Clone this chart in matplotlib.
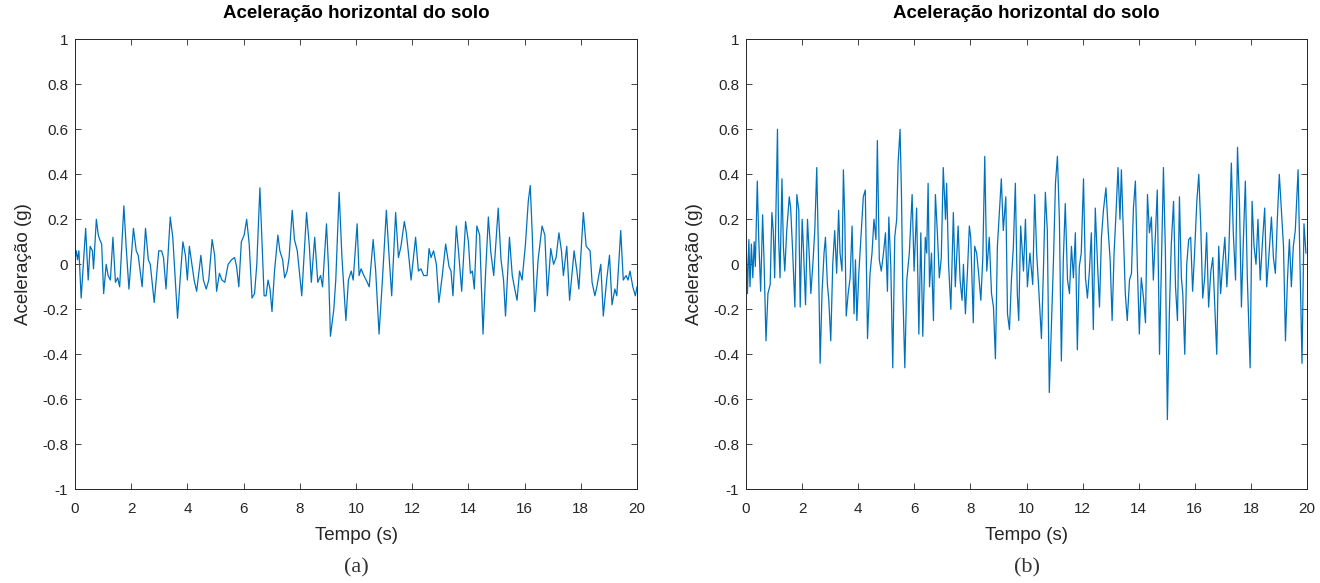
import numpy as np
import matplotlib
matplotlib.use("Agg")
import matplotlib.pyplot as plt
from matplotlib.ticker import FuncFormatter

# (a) sinal mais suave
t_a = [0.00, 0.05, 0.09, 0.14, 0.22, 0.38, 0.47, 0.54, 0.62, 0.66, 0.76, 0.83, 0.88, 0.95, 1.02,
       1.11, 1.18, 1.26, 1.35, 1.44, 1.52, 1.59, 1.74, 1.82, 1.92, 2.08, 2.18, 2.25, 2.39, 2.51,
       2.61, 2.68, 2.82, 2.89, 2.98, 3.08, 3.15, 3.24, 3.39, 3.48, 3.55, 3.65, 3.74, 3.84, 3.93,
       4.00, 4.07, 4.17, 4.24, 4.33, 4.48, 4.57, 4.67, 4.76, 4.88, 4.97, 5.04, 5.14, 5.23, 5.33,
       5.45, 5.57, 5.68, 5.75, 5.83, 5.92, 6.02, 6.11, 6.20, 6.30, 6.39, 6.47, 6.58,
       6.73, 6.80, 6.87, 6.94, 7.01, 7.10, 7.22, 7.29, 7.39, 7.46, 7.55, 7.62, 7.73, 7.81, 7.91,
       8.07, 8.24, 8.34, 8.41, 8.53, 8.64, 8.74, 8.81, 8.95, 9.02, 9.09, 9.21, 9.28, 9.40, 9.50,
       9.64, 9.73, 9.83, 9.90, 10.04, 10.11, 10.18, 10.28, 10.40, 10.47, 10.61, 10.70, 10.82, 10.94,
       11.08, 11.18, 11.27, 11.41, 11.51, 11.60, 11.72, 11.79, 11.89, 11.96, 12.12, 12.22, 12.31,
       12.41, 12.53, 12.60, 12.67, 12.76, 12.86, 12.95, 13.07, 13.19, 13.31,
       13.38, 13.45, 13.57, 13.66, 13.76, 13.90, 14.00, 14.07, 14.14, 14.21, 14.30, 14.40, 14.52,
       14.61, 14.71, 14.80, 14.90, 15.06, 15.16, 15.25, 15.32, 15.46, 15.56, 15.65, 15.73, 15.82,
       15.91, 16.03, 16.13, 16.20, 16.27, 16.36, 16.48, 16.62, 16.72, 16.81, 16.93, 17.03, 17.12,
       17.22, 17.31, 17.38, 17.50, 17.60, 17.76, 17.86, 17.93, 18.09, 18.19, 18.33, 18.40, 18.50,
       18.57, 18.71, 18.80, 18.92, 19.02, 19.11, 19.21, 19.28, 19.42, 19.51, 19.61, 19.68, 19.75,
       19.85, 19.94, 20.00]
acc_a = [0.02, 0.06, 0.02, 0.06, -0.15, 0.16, -0.07, 0.08, 0.06, -0.02, 0.20, 0.13, 0.11, 0.09, -0.13,
         0.00, -0.05, -0.07, 0.12, -0.08, -0.06, -0.10, 0.26, 0.08, -0.11, 0.16, 0.06, 0.04, -0.10, 0.16,
         0.02, 0.00, -0.17, -0.07, 0.06, 0.06, 0.03, -0.11, 0.21, 0.12, -0.03, -0.24, -0.07, 0.10, 0.04,
         -0.07, 0.08, -0.01, -0.07, -0.12, 0.04, -0.07, -0.11, -0.07, 0.11, 0.04, -0.12, -0.04, -0.07, -0.08,
         0.00, 0.02, 0.03, -0.01, -0.10, 0.10, 0.13, 0.20, 0.09, -0.15, -0.13, 0.00, 0.34,
         -0.14, -0.14, -0.07, -0.11, -0.21, -0.03, 0.13, 0.06, 0.02, -0.06, -0.03, 0.03, 0.24, 0.11, 0.06,
         -0.14, 0.23, 0.08, -0.08, 0.12, -0.08, -0.05, -0.10, 0.18, -0.01, -0.32, -0.20, -0.07, 0.32, 0.03,
         -0.25, -0.07, -0.03, -0.07, 0.18, -0.05, -0.02, -0.05, -0.08, -0.10, 0.11, -0.03, -0.31, -0.07,
         0.24, 0.03, -0.14, 0.23, 0.03, 0.08, 0.19, 0.14, 0.02, -0.07, 0.12, -0.03, -0.02,
         -0.05, -0.05, 0.07, 0.03, 0.06, 0.00, -0.17, -0.05, 0.09, -0.01,
         -0.03, -0.14, 0.17, 0.04, -0.12, 0.19, 0.10, -0.04, -0.03, -0.11, 0.17, 0.13, -0.31,
         -0.04, 0.21, 0.05, -0.05, 0.25, 0.02, -0.07, -0.23, 0.12, -0.05, -0.11, -0.16, -0.03,
         -0.07, 0.09, 0.28, 0.35, 0.14, -0.21, 0.02, 0.17, 0.13, -0.14, 0.07, 0.00, 0.03,
         0.14, 0.06, -0.05, 0.08, -0.16, 0.06, -0.03, -0.11, 0.23, 0.08, 0.06, -0.08, -0.14,
         -0.10, 0.00, -0.23, -0.07, 0.04, -0.18, -0.11, -0.14, 0.15, -0.07, -0.05, -0.07, -0.03,
         -0.10, -0.14, -0.10]

# (b) sinal mais intenso
t_b = [0.00, 0.05, 0.10, 0.14, 0.19, 0.24, 0.29, 0.33, 0.40, 0.45, 0.52, 0.59, 0.64, 0.71, 0.78,
       0.86, 0.92, 0.97, 1.02, 1.12, 1.16, 1.21, 1.28, 1.33, 1.38, 1.45, 1.54, 1.59, 1.66, 1.74,
       1.81, 1.88, 1.93, 2.00, 2.04, 2.12, 2.19, 2.26, 2.31, 2.38, 2.45, 2.52, 2.57, 2.64, 2.71,
       2.78, 2.83, 2.90, 2.95, 3.02, 3.09, 3.16, 3.23, 3.30, 3.35, 3.42, 3.47, 3.52, 3.57, 3.64,
       3.71, 3.78, 3.85, 3.90, 3.95, 4.02, 4.09, 4.18, 4.25, 4.33, 4.42, 4.49, 4.56, 4.63, 4.68,
       4.75, 4.82, 4.90, 4.97, 5.04, 5.09, 5.16, 5.23, 5.30, 5.37, 5.42, 5.49, 5.54, 5.59, 5.66,
       5.73, 5.82, 5.92, 5.99, 6.08, 6.16, 6.23, 6.30, 6.39, 6.44,
       6.49, 6.54, 6.61, 6.68, 6.75, 6.82, 6.89, 6.96, 7.03, 7.11, 7.15, 7.22, 7.30, 7.39, 7.46,
       7.56, 7.63, 7.70, 7.75, 7.82, 7.89, 7.96, 8.01, 8.10, 8.15, 8.22, 8.29, 8.37, 8.44, 8.51,
       8.58, 8.67, 8.75, 8.82, 8.89, 8.96, 9.03, 9.10, 9.17, 9.26, 9.32, 9.39, 9.46, 9.53, 9.60,
       9.67, 9.72, 9.79, 9.89, 9.96, 10.03, 10.12, 10.22, 10.29, 10.36, 10.43, 10.53, 10.60, 10.67,
       10.74, 10.81, 10.89, 10.96, 11.03, 11.10, 11.17, 11.24, 11.31, 11.38, 11.46, 11.53, 11.60,
       11.67, 11.74, 11.81, 11.88, 11.95, 12.03, 12.10, 12.17, 12.24, 12.31, 12.38, 12.45, 12.53,
       12.60, 12.67, 12.74, 12.83, 12.91, 12.98, 13.05, 13.12, 13.19, 13.26,
       13.33, 13.38, 13.45, 13.52, 13.59, 13.67, 13.74, 13.81, 13.88, 13.95, 14.02, 14.09, 14.17,
       14.24, 14.31, 14.38, 14.45, 14.52, 14.59, 14.66, 14.74, 14.81, 14.88, 14.95, 15.02, 15.09,
       15.16, 15.24, 15.31, 15.38, 15.45, 15.52, 15.57, 15.64, 15.71, 15.78, 15.85, 15.92, 15.99,
       16.07, 16.14, 16.21, 16.28, 16.35, 16.42, 16.49, 16.57, 16.64, 16.71, 16.78, 16.85, 16.92,
       16.99, 17.07, 17.14, 17.21, 17.30, 17.37, 17.45, 17.52, 17.59, 17.66, 17.73, 17.80, 17.87,
       17.97, 18.04, 18.11, 18.18, 18.25, 18.33, 18.42, 18.49, 18.56, 18.63, 18.73, 18.80, 18.87,
       18.94, 19.01, 19.08, 19.16, 19.23, 19.30, 19.37, 19.44, 19.51, 19.58, 19.68, 19.75, 19.82,
       19.89, 19.96]
acc_b = [0.12, -0.13, 0.11, -0.10, 0.09, -0.06, 0.10, -0.01, 0.37, 0.12, -0.12, 0.22, 0.02, -0.34, -0.13,
         -0.09, 0.23, 0.15, -0.06, 0.60, 0.12, -0.06, 0.38, 0.08, -0.03, 0.15, 0.30, 0.25, 0.06, -0.19,
         0.31, 0.24, -0.19, 0.20, 0.09, -0.18, 0.20, 0.02, -0.13, 0.00, 0.15, 0.43, 0.12, -0.44, -0.12,
         0.05, 0.12, -0.09, -0.16, -0.34, 0.00, 0.15, -0.04, 0.24, 0.05, -0.03, 0.42, 0.20, -0.23, -0.13,
         -0.06, 0.17, -0.22, 0.02, -0.25, -0.04, 0.11, 0.30, 0.33, -0.33, -0.04, 0.05, 0.20, 0.11, 0.55,
         0.02, -0.03, 0.05, 0.14, -0.12, 0.21, -0.01, -0.46, 0.12, 0.20, 0.45, 0.60, 0.31, -0.13, -0.46,
         -0.07, 0.05, 0.31, -0.03, 0.25, -0.31, 0.14, -0.32, 0.12, 0.05,
         0.36, -0.10, 0.05, -0.25, 0.31, 0.14, -0.06, 0.03, 0.43, 0.20, 0.36, 0.00, -0.20, 0.23, -0.10,
         0.17, -0.07, -0.16, 0.00, -0.22, -0.04, 0.17, 0.12, -0.26, 0.08, 0.05, -0.04, -0.16, 0.03, 0.48,
         -0.03, 0.12, -0.13, -0.19, -0.42, 0.08, 0.23, 0.38, 0.15, 0.30, -0.22, -0.29, -0.07, 0.08, 0.36,
         -0.13, -0.25, 0.17, -0.03, 0.20, -0.10, 0.05, -0.09, 0.31, 0.05, -0.10, -0.33, -0.03, 0.32,
         0.15, -0.57, -0.25, 0.02, 0.36, 0.48, 0.20, -0.43, 0.02, 0.27, -0.07, -0.13, 0.08,
         -0.06, 0.14, -0.38, -0.01, 0.05, 0.38, -0.06, -0.15, -0.03, 0.14, -0.29, 0.25, 0.00,
         -0.19, 0.12, 0.24, 0.34, 0.15, 0.02, -0.25, 0.05, 0.23, 0.43,
         0.20, 0.42, 0.14, -0.13, -0.25, -0.07, -0.04, 0.25, 0.37, -0.01, -0.31, -0.06, -0.15,
         -0.26, 0.31, 0.14, 0.21, -0.07, 0.12, 0.33, -0.40, 0.02, 0.43, 0.05, -0.69, -0.22,
         0.09, 0.28, -0.10, -0.25, 0.30, -0.06, -0.13, -0.40, 0.00, 0.11, 0.12, -0.12, 0.05,
         0.28, 0.40, 0.17, -0.15, -0.06, 0.14, -0.19, -0.03, 0.03, -0.19, -0.40, 0.08, -0.13,
         0.00, 0.12, -0.10, 0.05, 0.45, 0.14, -0.07, 0.52, 0.27, -0.19, 0.11, 0.37, -0.06,
         -0.46, 0.28, 0.08, 0.00, 0.20, -0.07, 0.12, 0.25, -0.10, 0.02, 0.21, 0.03, -0.04,
         0.20, 0.40, 0.25, 0.08, -0.34, -0.07, 0.11, -0.10, 0.08, 0.15, 0.42, 0.00, -0.44,
         0.18, 0.05]

titulo = "Aceleração horizontal do solo"
rotulos = ["(a)", "(b)"]

plt.rcParams['font.family'] = ['Liberation Sans', 'DejaVu Sans']
cor_linha = "#0072BD"
cor_eixo = "#262626"

fig = plt.figure(figsize=(13.2, 5.83), dpi=100)
ax1 = fig.add_axes([0.0568, 0.1607, 0.4258, 0.7719])
ax2 = fig.add_axes([0.5652, 0.1607, 0.4250, 0.7719])


def fmt(v, pos):
    v = round(v, 1) + 0.0
    if v == 0:
        return "0"
    return "%g" % v


for ax, t, acc, rot in [(ax1, t_a, acc_a, rotulos[0]), (ax2, t_b, acc_b, rotulos[1])]:
    ax.plot(t, acc, color=cor_linha, lw=0.9)
    ax.set_xlim(0, 20)
    ax.set_ylim(-1, 1)
    ax.set_xticks(np.arange(0, 21, 2))
    ax.set_yticks(np.arange(-1, 1.01, 0.2))
    ax.yaxis.set_major_formatter(FuncFormatter(fmt))
    ax.tick_params(direction="in", top=True, right=True, length=4, width=0.6,
                   labelsize=11, colors=cor_eixo)
    ax.tick_params(axis="x", pad=9)
    ax.tick_params(axis="y", pad=5)
    for s in ax.spines.values():
        s.set_color(cor_eixo)
        s.set_linewidth(0.7)
    ax.set_title(titulo, fontsize=13.5, fontweight="bold", pad=15)
    ax.set_xlabel("Tempo (s)", fontsize=13.5, color=cor_eixo, labelpad=8)
    ax.set_ylabel("Aceleração (g)", fontsize=13.5, color=cor_eixo, labelpad=7)
    ax.text(0.5, -0.175, rot, transform=ax.transAxes, ha="center", va="center",
            fontsize=16, family="Liberation Serif", color="#333333")

fig.savefig("out.png", dpi=100)
